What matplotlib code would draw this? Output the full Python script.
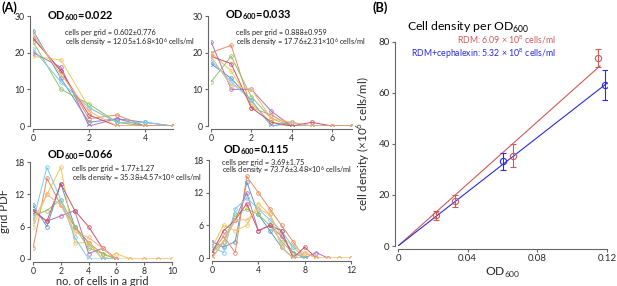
import matplotlib
matplotlib.use("Agg")
import matplotlib.pyplot as plt
import numpy as np

plt.rcParams['font.family'] = ['Lato', 'DejaVu Sans']
plt.rcParams['mathtext.fontset'] = 'custom'
plt.rcParams['mathtext.rm'] = 'Lato'
plt.rcParams['mathtext.bf'] = 'Lato:bold'

# ---- panel A data: grid PDF per OD ----
od_labels = ["0.022", "0.033", "0.066", "0.115"]
stats_grid = ["cells per grid = 0.602\u00b10.776", "cells per grid = 0.888\u00b10.959",
              "cells per grid = 1.77\u00b11.27", "cells per grid = 3.69\u00b11.75"]
stats_dens = ["cells density = 12.05\u00b11.68\u00d710$^6$ cells/ml",
              "cells density = 17.76\u00b12.31\u00d710$^6$ cells/ml",
              "cells density = 35.38\u00b14.57\u00d710$^6$ cells/ml",
              "cells density = 73.76\u00b13.48\u00d710$^6$ cells/ml"]

pdf_022 = [
    [26, 13, 1, 2, 1, 0],
    [24, 15, 2, 3, 0, 0],
    [19, 18, 5, 1, 0, 0],
    [20, 16, 0, 2, 0, 0],
    [23, 10, 6, 1, 0, 0],
    [21, 12, 5, 1, 1, 0],
    [24, 15, 3, 0, 0, 0],
    [25, 14, 4, 0, 0, 0],
]
pdf_033 = [
    [17, 13, 7, 0, 1, 0, 0, 0],
    [20, 22, 5, 3, 0, 0, 0, 0],
    [20, 15, 6, 1, 0, 0, 0, 0],
    [23, 10, 10, 4, 0, 0, 0, 0],
    [12, 19, 8, 2, 0, 0, 0, 0],
    [18, 12, 7, 0, 0, 0, 0, 0],
    [19, 17, 5, 1, 0, 1, 0, 0],
    [19, 11, 10, 2, 1, 0, 0, 0],
]
pdf_066 = [
    [10, 6, 14, 6, 3, 0, 0],
    [2, 15, 10, 6, 3, 1, 0],
    [6, 12, 17, 3, 3, 0, 1, 0, 0, 0, 0],
    [9, 7, 8, 9, 1, 2, 0],
    [8, 9, 11, 6, 2, 1, 0],
    [7, 17, 11, 4, 0, 0, 0],
    [9, 7, 14, 9, 6, 2, 0],
    [7, 12, 10, 5, 4, 2, 0, 0, 0, 0, 0],
]
pdf_115 = [
    [3, 2, 3, 14, 8, 5, 2, 0, 0],
    [1, 4, 1, 15, 12, 9, 6, 3, 0],
    [2, 6, 5, 6, 10, 8, 4, 2, 1, 0, 0, 0, 0],
    [0, 3, 7, 12, 5, 6, 4, 1, 0, 1, 0],
    [1, 3, 8, 9, 8, 6, 3, 1, 0],
    [2, 1, 9, 11, 9, 7, 5, 2, 0],
    [1, 5, 7, 10, 5, 6, 5, 0, 2, 0],
    [0, 3, 7, 7, 9, 8, 2, 0, 1, 0, 0, 0, 0],
]
all_pdfs = [pdf_022, pdf_033, pdf_066, pdf_115]

line_colors = ["#5a96cc", "#e88a62", "#f2c65a", "#ad72bb", "#92c264",
               "#78cbef", "#cc5368", "#f6b87a"]

# ---- panel B data ----
rdm_od = [0.022, 0.033, 0.066, 0.115]
rdm_dens = [12.05, 17.76, 35.38, 73.76]
rdm_err = [1.68, 2.31, 4.57, 3.48]
rdm_slope = 609.0
ceph_od = [0.060, 0.119]
ceph_dens = [33.2, 63.2]
ceph_err = [3.4, 6.0]
ceph_slope = 532.0

gray = "#666666"
txtc = "#2a2a2a"
red = "#cc5a5a"
blue = "#2a2ae0"

fig = plt.figure(figsize=(6.17, 2.86), dpi=100)

def style(ax, ls):
    for s in ["top", "right"]:
        ax.spines[s].set_visible(False)
    for s in ["left", "bottom"]:
        ax.spines[s].set_color(gray)
        ax.spines[s].set_linewidth(0.8)
        ax.spines[s].set_position(("outward", 2))
    ax.tick_params(colors=gray, labelcolor=txtc, labelsize=ls,
                   length=2.5, width=0.8, direction="out", pad=1.5)

W, H = 617.0, 286.0
boxes = [(33, 173, 126, 16), (211, 352, 126, 16), (33, 172, 259, 162), (212, 351, 258, 160)]
xlims = [5, 7, 10, 12]
ylims = [30, 30, 18, 18]
xts = [[0, 2, 4], [0, 2, 4, 6], [0, 2, 4, 6, 8, 10], [0, 4, 8, 12]]
yts = [[0, 10, 20, 30], [0, 10, 20, 30], [0, 6, 12, 18], [0, 6, 12, 18]]
title_pos = [(47, 16), (225, 15), (47, 155), (223, 150)]
stat_pos = [(65, 33), (236, 33), (72, 169), (222, 162)]
stat_gap = [9, 9, 9, 8]

for k in range(4):
    x0, x1, yb, yt = boxes[k]
    ax = fig.add_axes([x0 / W, 1 - yb / H, (x1 - x0) / W, (yb - yt) / H])
    for j, series in enumerate(all_pdfs[k]):
        xs = np.arange(len(series))
        ax.plot(xs, series, "-o", color=line_colors[j], lw=0.7, ms=2.6,
                mfc="none", mew=0.6)
    ax.set_xlim(0, xlims[k])
    ax.set_ylim(0, ylims[k])
    ax.set_xticks(xts[k])
    ax.set_yticks(yts[k])
    style(ax, 6.3)
    tx, ty = title_pos[k]
    fig.text(tx / W, 1 - ty / H, "OD$_{\\mathbf{600}}$=" + od_labels[k], fontsize=7.8,
             fontweight="bold", va="center")
    sx, sy = stat_pos[k]
    fig.text(sx / W, 1 - sy / H, stats_grid[k], fontsize=5.3, va="center", color="#222222")
    fig.text(sx / W, 1 - (sy + stat_gap[k]) / H, stats_dens[k], fontsize=5.3,
             va="center", color="#222222")
    if k == 2:
        ax.set_ylabel("grid PDF", fontsize=8.3, color=txtc, labelpad=3)
        ax.set_xlabel("no. of cells in a grid", fontsize=7.8, color=txtc, labelpad=0)

fig.text(1 / W, 1 - 8 / H, "(A)", fontsize=9.2, fontweight="bold", va="center")
fig.text(372 / W, 1 - 8 / H, "(B)", fontsize=9.2, fontweight="bold", va="center")

# ---- panel B ----
axb = fig.add_axes([398 / W, 1 - 246 / H, 209 / W, 204 / H])
xr = np.array([0, 0.116])
axb.plot(xr, rdm_slope * xr, color=red, lw=0.8)
xb = np.array([0, 0.12])
axb.plot(xb, ceph_slope * xb, color=blue, lw=0.8)
axb.errorbar(rdm_od, rdm_dens, yerr=rdm_err, fmt="o", color=red, mfc="none",
             ms=4.5, mew=0.8, capsize=2.2, elinewidth=0.8, capthick=0.8)
axb.errorbar(ceph_od, ceph_dens, yerr=ceph_err, fmt="o", color=blue, mfc="none",
             ms=4.5, mew=0.8, capsize=2.2, elinewidth=0.8, capthick=0.8)
axb.set_xlim(0, 0.12)
axb.set_ylim(0, 80)
axb.set_xticks([0, 0.04, 0.08, 0.12])
axb.set_xticklabels(["0", "0.04", "0.08", "0.12"])
axb.set_yticks([0, 20, 40, 60, 80])
style(axb, 7)
axb.set_xlabel("OD$_{600}$", fontsize=8.7, color=txtc, labelpad=2)
axb.set_ylabel("cell density (\u00d710$^6$ cells/ml)", fontsize=8.3, color=txtc, labelpad=4)
fig.text(407 / W, 1 - 27 / H, "Cell density per OD$_{600}$", fontsize=8.8, va="center")
fig.text(556 / W, 1 - 40 / H, "RDM: 6.09 \u00d7 10$^8$ cells/ml", fontsize=6.3,
         color=red, ha="right", va="center")
fig.text(556 / W, 1 - 54 / H, "RDM+cephalexin: 5.32 \u00d7 10$^8$ cells/ml", fontsize=6.3,
         color=blue, ha="right", va="center")

fig.savefig("out.png", dpi=100)
